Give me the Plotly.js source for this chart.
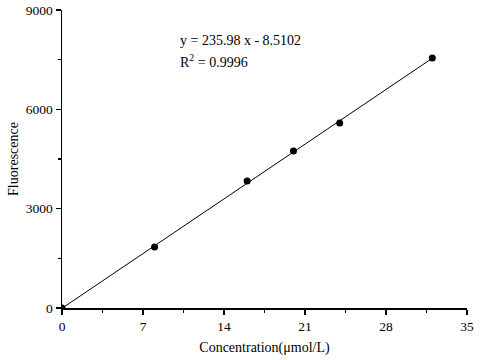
<!DOCTYPE html>
<html>
<head>
<meta charset="utf-8">
<script src="https://cdn.plot.ly/plotly-3.0.1.min.js"></script>
<style>html,body{margin:0;padding:0;background:#fff;}#chart{width:480px;height:360px;}</style>
</head>
<body>
<div id="chart"></div>
<script>
// Data
const concentration = [0, 8, 16, 20, 24, 32];
const fluorescence = [0, 1840, 3835, 4745, 5590, 7550];
const slope = 235.98;
const intercept = -8.5102;
const r2 = 0.9996;
const xTicks = [0, 7, 14, 21, 28, 35];
const yTicks = [0, 3000, 6000, 9000];

const fitX = [Math.min(...concentration), Math.max(...concentration)];
const fitY = fitX.map(x => slope * x + intercept);

const font = {family: '"Liberation Serif", "Times New Roman", serif', color: '#000', size: 13};

const traces = [
  {x: fitX, y: fitY, mode: 'lines', line: {color: '#000', width: 1}, hoverinfo: 'skip'},
  {x: concentration, y: fluorescence, mode: 'markers', marker: {color: '#000', size: 7}, cliponaxis: true}
];

const layout = {
  width: 480, height: 360,
  margin: {l: 62, r: 13, t: 10, b: 52},
  paper_bgcolor: '#fff', plot_bgcolor: '#fff',
  showlegend: false,
  font: font,
  xaxis: {
    range: [0, 35], tickvals: xTicks, ticktext: xTicks.map(String),
    showgrid: false, zeroline: false, showline: true, linecolor: '#000', linewidth: 1.5,
    ticks: 'outside', ticklen: 5, tickwidth: 1.5, tickcolor: '#000',
    minor: {dtick: 3.5, tick0: 0, ticks: 'outside', ticklen: 3, tickwidth: 1.2, tickcolor: '#000', showgrid: false},
    tickfont: {size: 13.5},
    title: {text: 'Concentration(μmol/L)', font: {size: 14}, standoff: 9}
  },
  yaxis: {
    range: [0, 9000], tickvals: yTicks, ticktext: yTicks.map(String),
    showgrid: false, zeroline: false, showline: true, linecolor: '#000', linewidth: 1.5,
    ticks: 'outside', ticklen: 5, tickwidth: 1.5, tickcolor: '#000',
    minor: {dtick: 1500, tick0: 0, ticks: 'outside', ticklen: 3, tickwidth: 1.2, tickcolor: '#000', showgrid: false},
    tickfont: {size: 13.5},
    title: {text: 'Fluorescence', font: {size: 14}, standoff: 4}
  },
  annotations: [{
    xref: 'paper', yref: 'paper', x: 0.287, y: 0.896, xanchor: 'left', yanchor: 'middle',
    align: 'left', showarrow: false,
    text: 'y = ' + slope.toFixed(2) + ' x - ' + Math.abs(intercept).toFixed(4),
    font: {size: 14}
  }, {
    xref: 'paper', yref: 'paper', x: 0.287, y: 0.829, xanchor: 'left', yanchor: 'middle',
    align: 'left', showarrow: false,
    text: 'R<sup>2</sup> = ' + r2.toFixed(4),
    font: {size: 14}
  }]
};

Plotly.newPlot('chart', traces, layout, {displayModeBar: false, staticPlot: true});
</script>
</body>
</html>
